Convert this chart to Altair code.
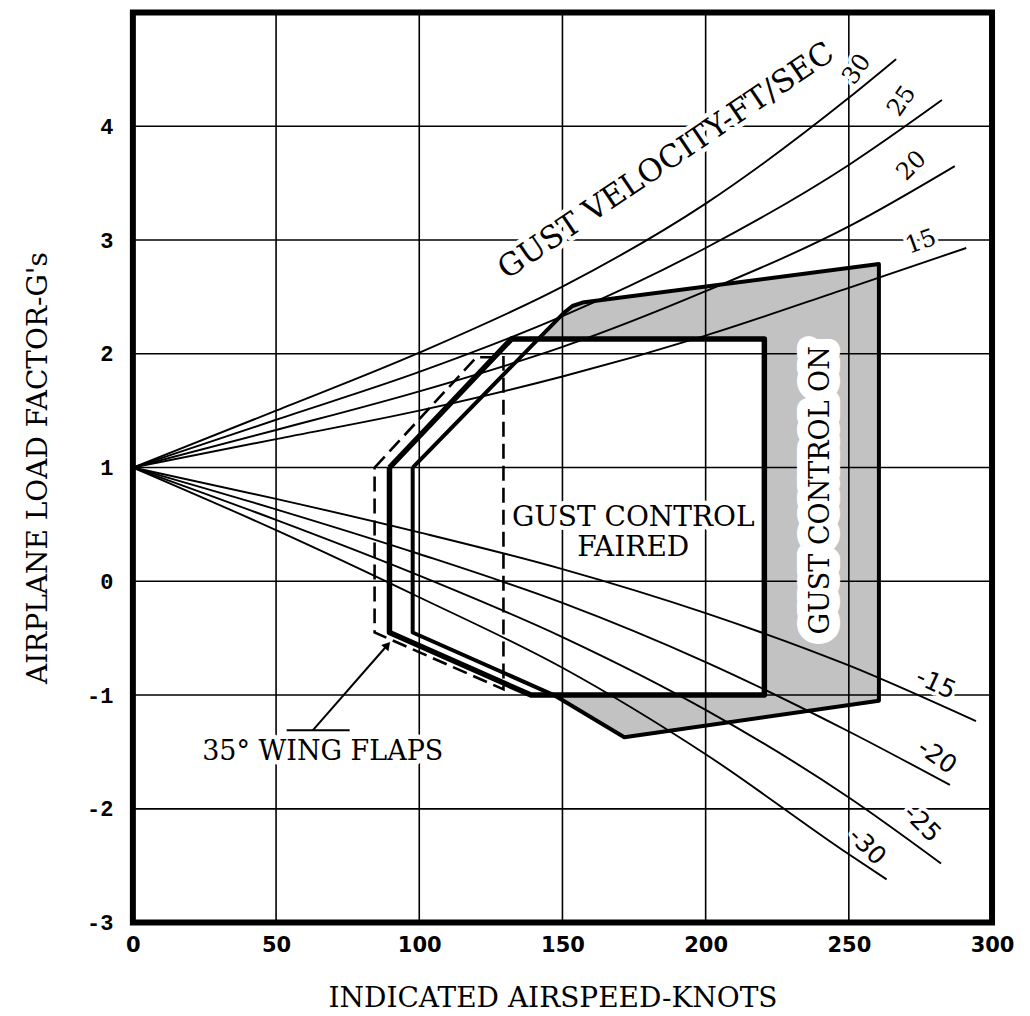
import altair as alt
import pandas as pd

# ---------------- axes ----------------
x_ticks = [0, 50, 100, 150, 200, 250, 300]
y_ticks = [-3, -2, -1, 0, 1, 2, 3, 4]
x_grid = [50, 100, 150, 200, 250]
y_grid = [-2, -1, 0, 1, 2, 3, 4]

# ---------------- gust lines ----------------
g30_x = [0, 50, 100, 150, 200, 250, 266.5]
g30_y = [1, 1.5, 2.01, 2.59, 3.32, 4.25, 4.59]
g25_x = [0, 50, 100, 150, 200, 250, 282.5]
g25_y = [1, 1.42, 1.84, 2.33, 2.93, 3.66, 4.23]
g20_x = [0, 50, 100, 150, 200, 250, 287]
g20_y = [1, 1.33, 1.67, 2.06, 2.55, 3.12, 3.65]
g15_x = [0, 50, 100, 150, 200, 250, 291]
g15_y = [1, 1.25, 1.5, 1.8, 2.16, 2.58, 2.93]
gm15_x = [0, 50, 100, 150, 200, 250, 294.4]
gm15_y = [1, 0.725, 0.43, 0.107, -0.28, -0.74, -1.23]
gm20_x = [0, 50, 100, 150, 200, 250, 285.3]
gm20_y = [1, 0.633, 0.24, -0.19, -0.71, -1.32, -1.79]
gm25_x = [0, 50, 100, 150, 200, 250, 282.2]
gm25_y = [1, 0.54, 0.05, -0.49, -1.13, -1.90, -2.48]
gm30_x = [0, 50, 100, 150, 200, 250, 263.2]
gm30_y = [1, 0.45, -0.14, -0.76, -1.52, -2.4, -2.62]

# ---------------- envelopes ----------------
on_x = [97.7, 97.7, 147, 171.6, 260.5, 260.5, 157, 153.5, 150.5, 97.7]
on_y = [1.0, -0.45, -1.0, -1.37, -1.05, 2.79, 2.45, 2.42, 2.36, 1.0]
faired_x = [89.6, 89.6, 139, 220.5, 220.5, 132.2, 89.6]
faired_y = [1.0, -0.45, -1.0, -1.0, 2.13, 2.13, 1.0]
flaps_x = [84.4, 120, 129.4, 129.4, 84.4, 84.4]
flaps_y = [1.0, 1.97, 1.97, -0.95, -0.45, 1.0]

# ---------------- annotation pointer ----------------
arrow_x = [62.8, 88.9]
arrow_y = [-1.31, -0.56]
under_x = [53.7, 75.7]
under_y = [-1.31, -1.31]

# ---------------- labels ----------------
lab_text = ["GUST VELOCITY-FT/SEC", "GUST CONTROL", "FAIRED", "35° WING FLAPS"]
lab_x = [186.3, 174.7, 174.7, 66.3]
lab_y = [3.69, 0.56, 0.29, -1.5]
lab_angle = [326, 0, 0, 0]
lab_size = [31, 28, 28, 27]

on_text = ["GUST CONTROL ON"]
on_tx = [240.3]
on_ty = [0.80]
on_angle = [270]

pos_text = ["30", "25", "20", "15"]
pos_x = [252.9, 268.6, 272.0, 275.2]
pos_y = [4.50, 4.22, 3.65, 2.98]
pos_angle = [305, 305, 315, 340]

neg_text = ["-15", "-20", "-25", "-30"]
neg_x = [280.4, 280.8, 275.6, 256.4]
neg_y = [-0.90, -1.54, -2.13, -2.33]
neg_angle = [25, 35, 45, 45]

SERIF = "DejaVu Serif"


def pts(xs, ys, name):
    return pd.DataFrame({"x": xs, "y": ys, "s": name, "i": list(range(len(xs)))})


gust_df = pd.concat([
    pts(g30_x, g30_y, "30"), pts(g25_x, g25_y, "25"),
    pts(g20_x, g20_y, "20"), pts(g15_x, g15_y, "15"),
    pts(gm15_x, gm15_y, "-15"), pts(gm20_x, gm20_y, "-20"),
    pts(gm25_x, gm25_y, "-25"), pts(gm30_x, gm30_y, "-30"),
])
on_df = pts(on_x, on_y, "on")
faired_df = pts(faired_x, faired_y, "faired")
flaps_df = pts(flaps_x, flaps_y, "flaps")
pointer_df = pd.concat([pts(arrow_x, arrow_y, "arrow"), pts(under_x, under_y, "under")])
head_df = pd.DataFrame({"x": [arrow_x[1]], "y": [arrow_y[1]]})

lab_df = pd.DataFrame({"x": lab_x, "y": lab_y, "t": lab_text, "a": lab_angle, "fs": lab_size})
ontxt_df = pd.DataFrame({"x": on_tx, "y": on_ty, "t": on_text, "a": on_angle})
pos_df = pd.DataFrame({"x": pos_x, "y": pos_y, "t": pos_text, "a": pos_angle})
neg_df = pd.DataFrame({"x": neg_x, "y": neg_y, "t": neg_text, "a": neg_angle})

x_axis = alt.Axis(values=x_ticks, grid=False, domain=False, ticks=False,
                  labelPadding=12, labelFont="DejaVu Sans", labelFontWeight="bold",
                  labelFontSize=21, labelColor="black", labelFlush=False,
                  title="INDICATED AIRSPEED-KNOTS", titleFont=SERIF, titleFontSize=28,
                  titleFontWeight="normal", titleColor="black", titleY=62, titleX=420)
y_axis = alt.Axis(values=y_ticks, grid=False, domain=False, ticks=False,
                  labelPadding=20, labelFont="Liberation Mono", labelFontWeight="bold",
                  labelFontSize=22, labelColor="black", labelExpr="'' + datum.value",
                  title="AIRPLANE LOAD FACTOR-G's", titleFont=SERIF, titleFontSize=28,
                  titleFontWeight="normal", titleColor="black", titleX=-80)

xs = alt.Scale(domain=[0, 300], nice=False, zero=False)
ys = alt.Scale(domain=[-3, 5], nice=False, zero=False)


def X():
    return alt.X("x:Q", scale=xs, axis=x_axis)


def Y():
    return alt.Y("y:Q", scale=ys, axis=y_axis)


on_fill = alt.Chart(on_df).mark_line(fill="#c2c2c2", strokeOpacity=0).encode(
    x=X(), y=Y(), order="i:Q")
faired_fill = alt.Chart(faired_df).mark_line(fill="white", strokeOpacity=0).encode(
    x=X(), y=Y(), order="i:Q")

vgrid = alt.Chart(pd.DataFrame({"x": x_grid})).mark_rule(color="black", strokeWidth=1.6).encode(x=X())
hgrid = alt.Chart(pd.DataFrame({"y": y_grid})).mark_rule(color="black", strokeWidth=1.6).encode(y=Y())

gust = alt.Chart(gust_df).mark_line(color="black", strokeWidth=1.9, interpolate="monotone").encode(
    x=X(), y=Y(), detail="s:N", order="i:Q")

flaps = alt.Chart(flaps_df).mark_line(color="black", strokeWidth=2.6, strokeDash=[15, 7]).encode(
    x=X(), y=Y(), order="i:Q")
on_line = alt.Chart(on_df).mark_line(color="black", strokeWidth=4, strokeJoin="round").encode(
    x=X(), y=Y(), order="i:Q")
faired_line = alt.Chart(faired_df).mark_line(color="black", strokeWidth=5.5, strokeJoin="round").encode(
    x=X(), y=Y(), order="i:Q")

pointer = alt.Chart(pointer_df).mark_line(color="black", strokeWidth=2).encode(
    x=X(), y=Y(), detail="s:N", order="i:Q")
head = alt.Chart(head_df).mark_point(shape="triangle-up", filled=True, color="black",
                                     size=90, angle=41, opacity=1).encode(x=X(), y=Y())


def text_layers(df, font, size=None, halo=7):
    enc = dict(x=X(), y=Y(), text="t:N", angle=alt.Angle("a:Q", scale=None))
    if size is None:
        enc["size"] = alt.Size("fs:Q", scale=None)
        kw = {}
    else:
        kw = {"fontSize": size}
    h = alt.Chart(df).mark_text(font=font, stroke="white", strokeWidth=halo, strokeJoin="round",
                                fill="white", align="center", baseline="middle", **kw).encode(**enc)
    t = alt.Chart(df).mark_text(font=font, color="black", align="center", baseline="middle",
                                **kw).encode(**enc)
    return [h, t]


layers = [on_fill, faired_fill, vgrid, hgrid, gust, flaps, on_line, faired_line, pointer, head]
layers += text_layers(lab_df, SERIF, None, 9)
layers += text_layers(ontxt_df, SERIF, 27, 22)
layers += text_layers(pos_df, SERIF, 24, 7)
layers += text_layers(neg_df, "DejaVu Sans", 25, 7)

chart = alt.layer(*layers).properties(
    width=860, height=911,
    autosize=alt.AutoSizeParams(type="none"),
    padding={"left": 125, "top": 4, "right": 30, "bottom": 90},
).configure_view(stroke="black", strokeWidth=6)

chart.save("out.html", embed_options={"renderer": "svg", "actions": False})
